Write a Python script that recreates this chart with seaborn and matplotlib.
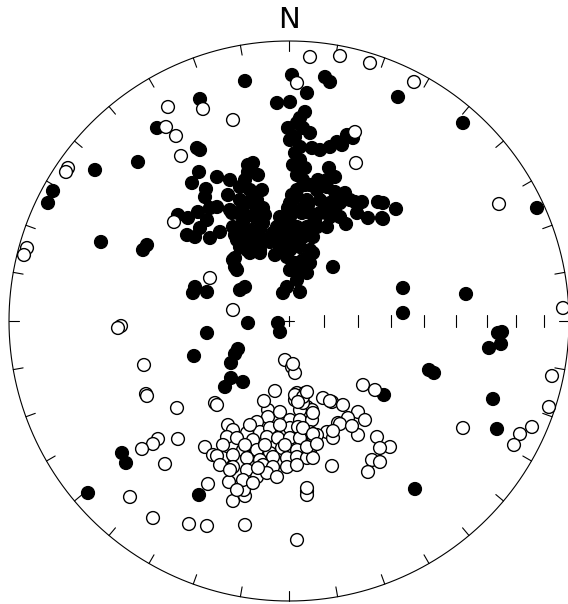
import numpy as np
import pandas as pd
import matplotlib
matplotlib.use("Agg")
import matplotlib.pyplot as plt
import seaborn as sns

# Projected positions (equal-area net, primitive radius = 280 units; east, north)
filled_e = [-44, 3, 18, 36, 41, -12, 1, 109, 174, 248, -89, -132, -151, -194, -236, -241,
            -188, -146, -142, -92, -90, -97, 94, 107, 94, 114, 177, 114, 209, 213, 212, 200,
            140, 145, 204, 208, 126, 95, -82, -95, -51, -54, -58, -58, -64, -46, -167, -163,
            -201, -90, -41, -11, -9, -94, -96, -82, -49, -44, -52, -54, -54, 44,
            -89, -72, -83, -84, -59, -49, -41, -36, -31, -41, -111, -101, -91, -79, -72, -82,
            -102, -94, -89, -79, -69, -59, -56, -49, -42, -32, -26, -52, -46, -36, -26, -22,
            -42, -29, -49, -34, -46, -51, -46, -37, -39, -56, -29, -57, -49, -42, -32, -39,
            -27, -61, -44, -39, -29, -54, -24, -34, -44, -32,
            16, 11, 8, -1, 14, 21, 6, 11, 23, 6, 4, 16, 8, 14, 21, 31, 41, 53, 58, 64, 48,
            40, 46, 38, 28, 38, 46, 56, 8, 18, 31, 41, 51, 61, 66, 73, 89, 68, 79, 93, 57,
            -1, -9, 1, 11, 21, 31, 41, 51, -12, -2, 8, 18, 28, 38, -12, -6, 4, 14, 24, -19,
            -9, 1, 11, 21, 24, -2, 14, 21, 1, 11, 18, 8, -2, -6, 11, -16, 1, 8, 16, 11, 1,
            19, 29, 1, -14, 6, -4, 6, 26, 36, 46, 3, 13]
filled_n = [240, 246, 228, 244, 239, 218, 219, 224, 198, 113, 222, 193, 159, 151, 130, 118,
            79, 71, 76, 173, 149, 138, 118, 112, 102, 33, 27, 8, -12, -11, -23, -27,
            -49, -52, -78, -108, -168, -74, -12, -35, -28, -33, -42, -57, -66, -61, -132, -142,
            -172, -174, -2, -2, -11, 34, 28, 29, 31, 34, 51, 63, 54, 54,
            171, 144, 132, 124, 141, 134, 156, 158, 146, 149, 106, 103, 109, 113, 114, 101,
            86, 84, 93, 83, 89, 111, 94, 121, 118, 121, 113, 81, 84, 88, 98, 81,
            71, 71, 74, 104, 99, 108, 108, 91, 68, 61, 68, 108, 94, 78, 79, 131,
            131, 126, 106, 76, 91, 86, 106, 126, 141, 111,
            209, 203, 198, 193, 193, 188, 184, 174, 173, 168, 156, 153, 146, 141, 136, 171, 174, 176, 186, 183, 179,
            153, 144, 141, 131, 134, 129, 128, 124, 121, 121, 118, 118, 121, 119, 119, 119, 108, 103, 103, 97,
            113, 104, 104, 111, 108, 108, 104, 104, 94, 91, 94, 94, 94, 94, 84, 79, 81, 84, 84, 79,
            74, 71, 74, 71, 68, 64, 61, 58, 51, 51, 48, 41, 34, 28, 29, 88, 118, 131, 136, 161, 181,
            116, 141, 96, 66, 58, 101, 86, 101, 111, 111, 126, 108]

open_e = [21, 51, 81, 125, 8, 66, 67, 210, 274, -121, -123, -113, -108, -86, -56, -221, -223,
          -262, -265, -115, -79, -56, -168, -171, -145, -143, -142, -112, -74, -72, -131, -136,
          -147, -111, -124, -159, -81, -136, -100, -82, -44, 8, 263, 260, 243, 231, 225, 174,
          18, 18, 43, -60, -56, -44, -45,
          -4, 3, 6, 4, 8, 16, 6, 18, 23, 11, 14, -14, 6, 14, 9, -21, -21, -9, 1, 11, 23, -32,
          -61, -56, -42, -29, -19, 1, 9, 21, -62, -52, -36, -22, -11, 1, 11, 24, -84, -66, -46,
          -32, -19, -7, 8, 21, -76, -66, -56, -42, -29, -16, -2, 8, 18, -56, -42, -26, -16, -2,
          8, -46, -32, -22, -12, -36, -52, 18, 74, 86, 18, 34, 43, 54, 69, 76, 59, 49, 38, 44,
          28, 24, 69, 88, 101, 91, 83, 91, 79, 24, 14, 24, 18, -72, -25, 51, 41, 44, 24, 28, 63,
          -9, -4, -24, -39, -69, -44, -31, -59]
open_n = [264, 265, 258, 239, 238, 189, 158, 117, 13, 214, 194, 185, 165, 212, 201, 153, 149,
          73, 66, 99, 43, 11, -5, -7, -44, -73, -75, -87, -82, -84, -118, -123,
          -128, -118, -143, -176, -163, -197, -203, -205, -204, -219, -55, -86, -106, -113, -124, -107,
          -170, -174, -145, -161, -180, -175, -169,
          -39, -46, -52, -43, -72, -72, -79, -86, -89, -89, -82, -70, -74, -76, -81, -89, -96, -91, -99, -99, -99, -101,
          -104, -109, -112, -111, -107, -107, -106, -111, -116, -117, -119, -116, -117, -117, -117, -121, -126, -124, -129,
          -129, -132, -127, -129, -131, -134, -137, -134, -137, -139, -136, -137, -136, -137, -146, -149, -144, -146, -146,
          -144, -159, -156, -152, -156, -162, -169, -167, -64, -69, -71, -77, -81, -84, -91, -99, -97, -102, -111, -117,
          -114, -124, -114, -116, -126, -127, -139, -141, -151, -92, -107, -137, -126, -135, -80, -103, -80, -110, -113, -123, -105,
          -104, -124, -124, -104, -144, -124, -147, -149]

R = 280.0

df = pd.concat([
    pd.DataFrame({"east": filled_e, "north": filled_n, "kind": "filled"}),
    pd.DataFrame({"east": open_e, "north": open_n, "kind": "open"}),
], ignore_index=True)

sns.set_style("white")
fig = plt.figure(figsize=(5.68, 6.04), dpi=100)
ax = fig.add_axes([0, 0, 1, 1])

# primitive circle
t = np.linspace(0, 2 * np.pi, 721)
ax.plot(R * np.cos(t), R * np.sin(t), color="black", lw=0.8, zorder=1)
# azimuth ticks every 10 degrees
for az in range(0, 360, 10):
    a = np.radians(az)
    ax.plot([R * np.sin(a), (R - 10) * np.sin(a)], [R * np.cos(a), (R - 10) * np.cos(a)],
            color="black", lw=0.8, zorder=1)
# plunge scale along east radius (equal-area)
for p in range(80, 0, -10):
    r = R * np.sqrt(2) * np.sin(np.radians((90 - p) / 2))
    ax.plot([r, r], [-6, 6], color="black", lw=0.8, zorder=1)
# centre cross
ax.plot([-5, 5], [0, 0], color="black", lw=0.8, zorder=1)
ax.plot([0, 0], [-5, 5], color="black", lw=0.8, zorder=1)
ax.text(0, 287, "N", ha="center", va="bottom", fontsize=21, color="black")

sns.scatterplot(data=df, x="east", y="north", hue="kind",
                palette={"filled": "black", "open": "white"},
                edgecolor="black", linewidth=1.0, s=85, legend=False, ax=ax, zorder=3)
ax.set_xlim(-289, 279)
ax.set_ylim(-283, 321)
ax.axis("off")

fig.savefig("out.png", dpi=100, facecolor="white")
